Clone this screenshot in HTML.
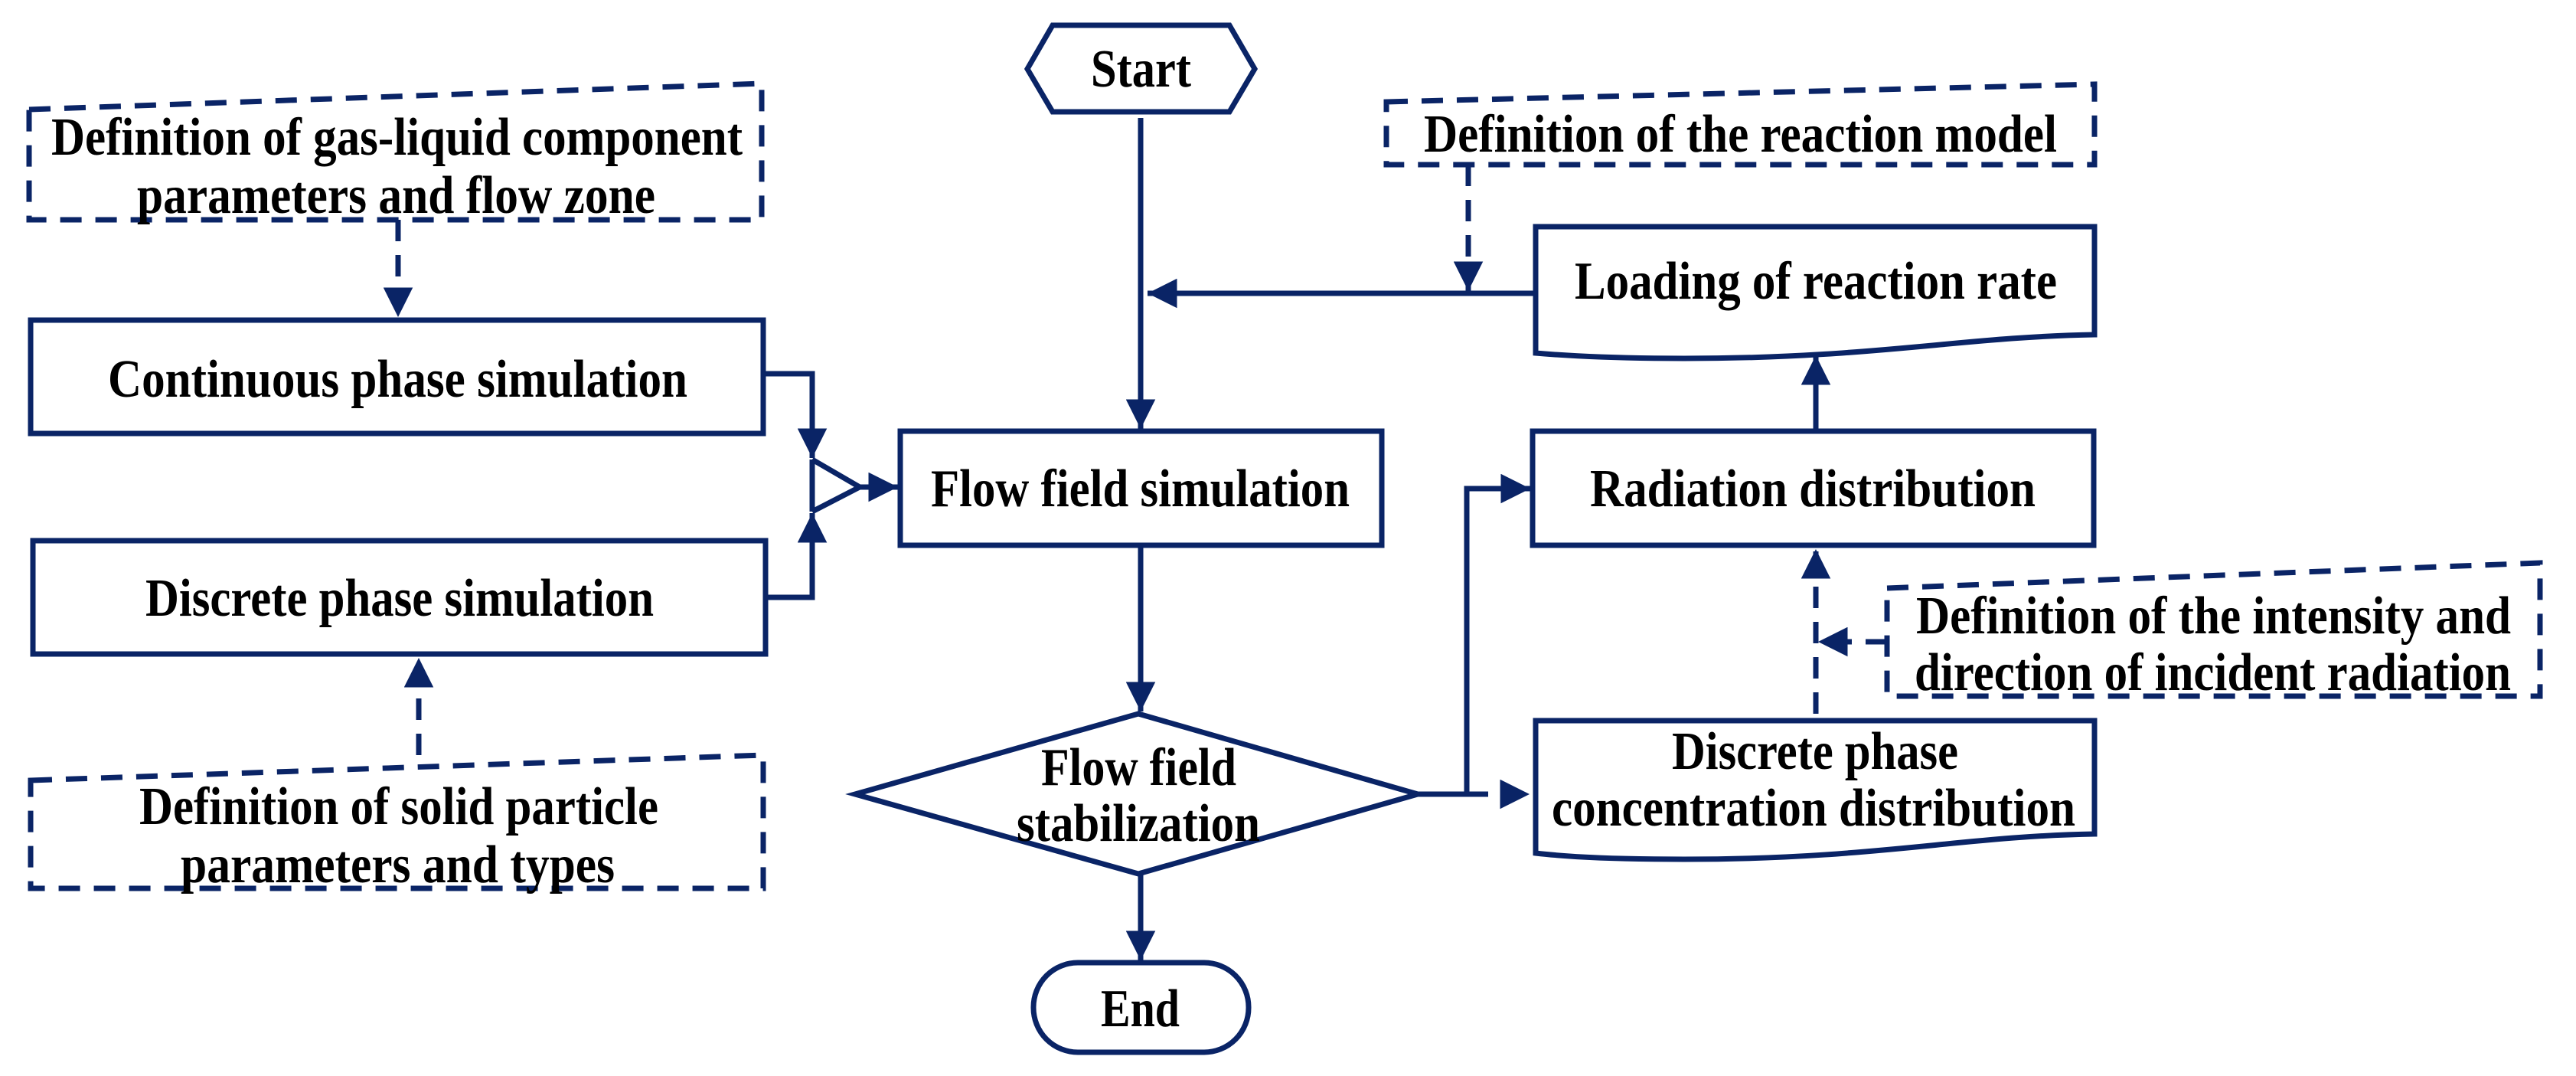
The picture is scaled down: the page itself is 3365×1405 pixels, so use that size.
<!DOCTYPE html>
<html><head><meta charset="utf-8"><style>
html,body{margin:0;padding:0;background:#fff;}
svg{display:block;}
text{font-family:"Liberation Serif","Times New Roman","DejaVu Serif",serif;font-weight:bold;font-size:70px;fill:#000;}
</style></head><body>
<svg width="3365" height="1405" viewBox="0 0 3365 1405" xmlns="http://www.w3.org/2000/svg">
<defs>
<marker id="a" viewBox="0 0 10 10" refX="10" refY="5" markerWidth="5.5" markerHeight="5.5" markerUnits="strokeWidth" orient="auto"><path d="M0,0 L10,5 L0,10 z" fill="#0a2466"/></marker>
</defs>
<g fill="none" stroke="#0a2466" stroke-width="7">
<g stroke-dasharray="28,18">
<path d="M38,143 L995,109 L995,287 L38,287 Z"/>
<path d="M40,1019 L997,986 L997,1160 L40,1160 Z"/>
<path d="M1811,133 L2736,110 L2736,215 L1811,215 Z"/>
<path d="M2465,768 L3318,735 L3318,909 L2465,909 Z"/>
<path d="M520,287 L520,414" marker-end="url(#a)"/>
<path d="M547,986 L547,859" marker-end="url(#a)"/>
<path d="M1918,215 L1918,380" marker-end="url(#a)"/>
<path d="M2372,932 L2372,717" marker-end="url(#a)"/>
<path d="M2465,838 L2375,838" marker-end="url(#a)"/>
<path d="M1916,1037 L1998,1037" marker-end="url(#a)"/>
</g>
<rect x="40" y="418" width="957" height="148"/>
<rect x="43" y="706" width="957" height="148"/>
<rect x="1176" y="563" width="629" height="149"/>
<rect x="2002" y="563" width="733" height="149"/>
<path d="M2006,296 L2736,296 L2736,437 C2560,440 2450,468 2200,468 C2100,468 2040,464 2006,461 Z"/>
<path d="M2006,941 L2736,941 L2736,1089 C2560,1092 2450,1122 2200,1122 C2100,1122 2040,1118 2006,1114 Z"/>
<path d="M1342,90 L1375,33 L1606,33 L1639,90 L1606,146 L1375,146 Z"/>
<path d="M1487,932 L1852,1037 L1487,1141 L1117,1037 Z"/>
<rect x="1350" y="1257" width="281" height="117" rx="58"/>
<path d="M998,488 L1061,488 L1061,598" marker-end="url(#a)"/>
<path d="M1000,780 L1061,780 L1061,670" marker-end="url(#a)"/>
<path d="M1061,600 L1061,668 M1061,600 L1123,636 L1061,668"/>
<path d="M1123,636 L1173,636" marker-end="url(#a)"/>
<path d="M1490,154 L1490,560" marker-end="url(#a)"/>
<path d="M2006,383 L1499,383" marker-end="url(#a)"/>
<path d="M1490,712 L1490,929" marker-end="url(#a)"/>
<path d="M1490,1141 L1490,1254" marker-end="url(#a)"/>
<path d="M1852,1037 L1916,1037 L1916,638 L1999,638" marker-end="url(#a)"/>
<path d="M2372,563 L2372,464" marker-end="url(#a)"/>
</g>
<g font-family="Liberation Serif, Times New Roman, serif" font-weight="bold" font-size="70">
<text x="67" y="202" textLength="903" lengthAdjust="spacingAndGlyphs">Definition of gas-liquid component</text>
<text x="179" y="278" textLength="677" lengthAdjust="spacingAndGlyphs">parameters and flow zone</text>
<text x="141" y="518" textLength="757" lengthAdjust="spacingAndGlyphs">Continuous phase simulation</text>
<text x="190" y="804" textLength="664" lengthAdjust="spacingAndGlyphs">Discrete phase simulation</text>
<text x="182" y="1076" textLength="678" lengthAdjust="spacingAndGlyphs">Definition of solid particle</text>
<text x="236" y="1152" textLength="567" lengthAdjust="spacingAndGlyphs">parameters and types</text>
<text x="1425" y="113" textLength="131" lengthAdjust="spacingAndGlyphs">Start</text>
<text x="1216" y="661" textLength="547" lengthAdjust="spacingAndGlyphs">Flow field simulation</text>
<text x="1360" y="1025" textLength="255" lengthAdjust="spacingAndGlyphs">Flow field</text>
<text x="1328" y="1098" textLength="318" lengthAdjust="spacingAndGlyphs">stabilization</text>
<text x="1438" y="1340" textLength="103" lengthAdjust="spacingAndGlyphs">End</text>
<text x="1860" y="198" textLength="827" lengthAdjust="spacingAndGlyphs">Definition of the reaction model</text>
<text x="2057" y="390" textLength="630" lengthAdjust="spacingAndGlyphs">Loading of reaction rate</text>
<text x="2077" y="661" textLength="582" lengthAdjust="spacingAndGlyphs">Radiation distribution</text>
<text x="2503" y="827" textLength="777" lengthAdjust="spacingAndGlyphs">Definition of the intensity and</text>
<text x="2501" y="901" textLength="779" lengthAdjust="spacingAndGlyphs">direction of incident radiation</text>
<text x="2184" y="1004" textLength="374" lengthAdjust="spacingAndGlyphs">Discrete phase</text>
<text x="2027" y="1078" textLength="684" lengthAdjust="spacingAndGlyphs">concentration distribution</text>
</g>
</svg>
</body></html>
